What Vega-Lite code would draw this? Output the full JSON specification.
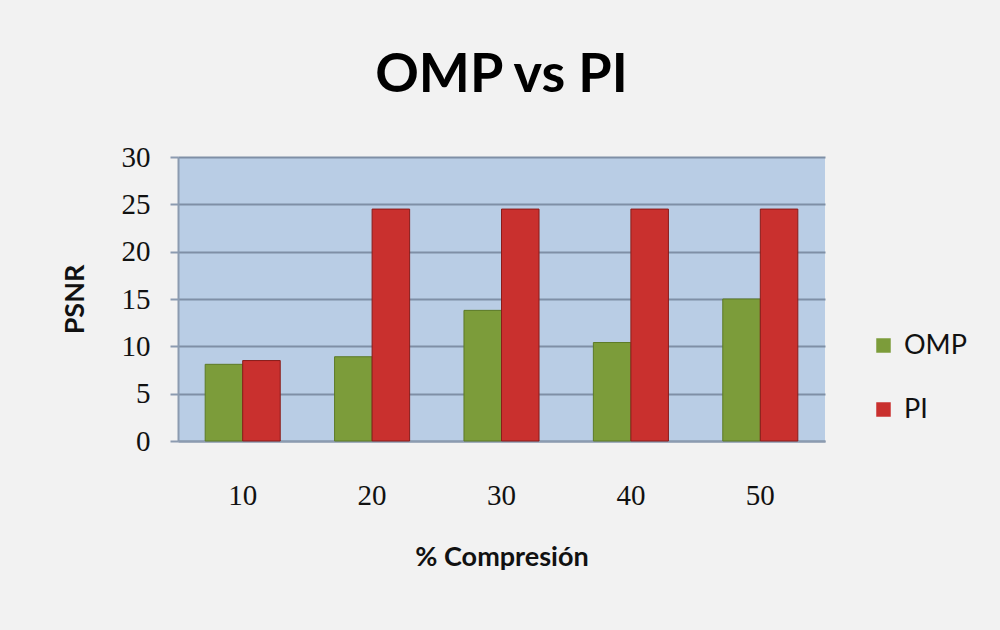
{
  "$schema": "https://vega.github.io/schema/vega-lite/v6.json",
  "width": 647,
  "height": 284,
  "autosize": {"type": "none"},
  "padding": {"left": 178, "top": 157, "right": 175, "bottom": 189},
  "background": "#f2f2f2",
  "title": {
    "text": "OMP vs PI",
    "fontSize": 54,
    "font": "Lato",
    "fontWeight": "bold",
    "color": "#000000",
    "anchor": "middle",
    "offset": 40
  },
  "data": {
    "values": [
      {"comp": "10", "serie": "OMP", "psnr": 8.1},
      {"comp": "10", "serie": "PI", "psnr": 8.5},
      {"comp": "20", "serie": "OMP", "psnr": 8.9},
      {"comp": "20", "serie": "PI", "psnr": 24.5},
      {"comp": "30", "serie": "OMP", "psnr": 13.8},
      {"comp": "30", "serie": "PI", "psnr": 24.5},
      {"comp": "40", "serie": "OMP", "psnr": 10.4},
      {"comp": "40", "serie": "PI", "psnr": 24.5},
      {"comp": "50", "serie": "OMP", "psnr": 15.0},
      {"comp": "50", "serie": "PI", "psnr": 24.5}
    ]
  },
  "mark": {"type": "bar", "strokeWidth": 1},
  "encoding": {
    "x": {
      "field": "comp",
      "type": "nominal",
      "sort": null,
      "title": "% Compresión",
      "scale": {"paddingInner": 0.42, "paddingOuter": 0.21},
      "axis": {
        "labelAngle": 0,
        "labelFont": "Liberation Serif",
        "labelFontSize": 29,
        "labelColor": "#111111",
        "labelPadding": 40,
        "ticks": false,
        "domainColor": "#8c9bb0",
        "domainWidth": 2,
        "titleFont": "Lato",
        "titleFontSize": 27,
        "titleFontWeight": "bold",
        "titleColor": "#111111",
        "titlePadding": 34
      }
    },
    "xOffset": {"field": "serie", "type": "nominal", "scale": {"paddingInner": 0}},
    "y": {
      "field": "psnr",
      "type": "quantitative",
      "title": "PSNR",
      "scale": {"domain": [0, 30], "nice": false},
      "axis": {
        "values": [0, 5, 10, 15, 20, 25, 30],
        "labelFont": "Liberation Serif",
        "labelFontSize": 29,
        "labelColor": "#111111",
        "labelPadding": 20,
        "tickSize": 8,
        "tickColor": "#8c9bb0",
        "tickWidth": 2,
        "domainColor": "#8c9bb0",
        "domainWidth": 2,
        "gridColor": "#7f8fa6",
        "gridWidth": 2,
        "gridOpacity": 1,
        "titleFont": "Lato",
        "titleFontSize": 27,
        "titleFontWeight": "bold",
        "titleColor": "#111111",
        "titlePadding": 32
      }
    },
    "color": {
      "field": "serie",
      "type": "nominal",
      "scale": {"domain": ["OMP", "PI"], "range": ["#7c9c3a", "#c9302e"]},
      "legend": {
        "title": null,
        "orient": "none",
        "legendX": 692,
        "legendY": 175,
        "symbolType": "square",
        "symbolSize": 210,
        "symbolStrokeWidth": 0,
        "labelFont": "Lato",
        "labelFontSize": 27,
        "labelColor": "#111111",
        "rowPadding": 36,
        "labelOffset": 7
      }
    },
    "stroke": {
      "field": "serie",
      "type": "nominal",
      "scale": {"domain": ["OMP", "PI"], "range": ["#5c7a26", "#8a1c1a"]},
      "legend": null
    }
  },
  "config": {
    "view": {"fill": "#b9cde5", "stroke": null}
  }
}
